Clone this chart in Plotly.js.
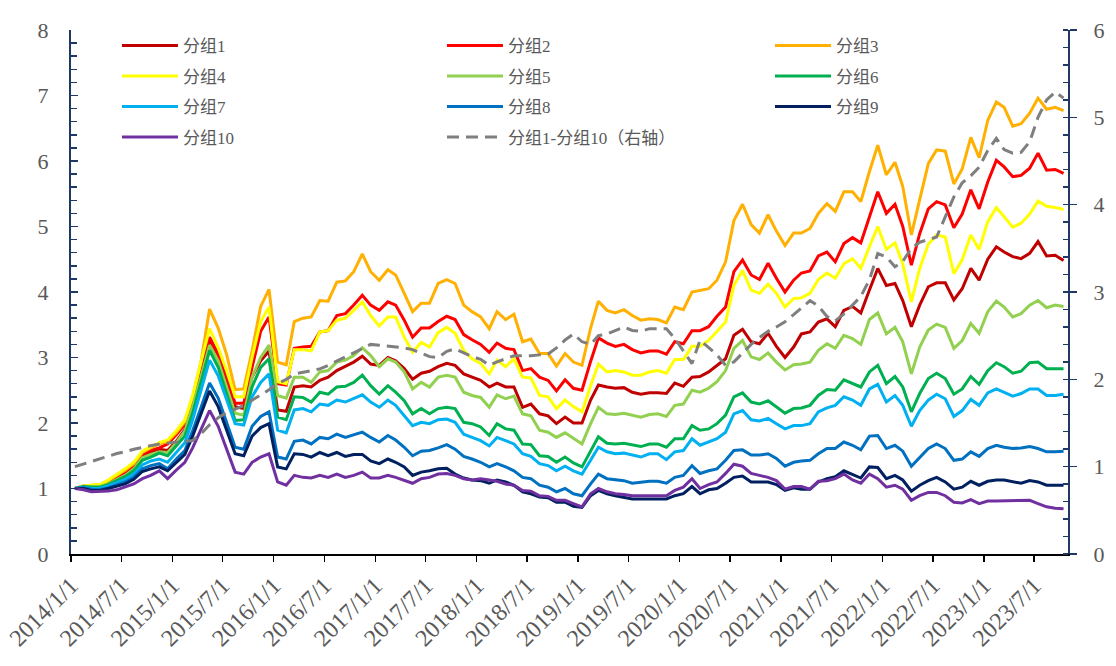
<!DOCTYPE html>
<html><head><meta charset="utf-8">
<script src="https://cdn.plot.ly/plotly-3.0.1.min.js"></script>
<style>html,body{margin:0;padding:0;background:#fff}#chart{width:1116px;height:666px}</style>
</head><body><div id="chart"></div>
<script>
// ---- categories: monthly observations 2014-01 .. 2023-10 ----
const startYear = 2014, startMonth = 1, nMonths = 118;
const dates = [];
for (let i = 0; i < nMonths; i++) {
  const y = startYear + Math.floor((startMonth - 1 + i) / 12);
  const m = (startMonth - 1 + i) % 12 + 1;
  dates.push(y + '-' + String(m).padStart(2, '0') + '-15');
}
const tickVals = ['2014-01-01','2014-07-01','2015-01-01','2015-07-01','2016-01-01','2016-07-01','2017-01-01','2017-07-01','2018-01-01','2018-07-01','2019-01-01','2019-07-01','2020-01-01','2020-07-01','2021-01-01','2021-07-01','2022-01-01','2022-07-01','2023-01-01','2023-07-01'];
const tickLabels = ['2014/1/1','2014/7/1','2015/1/1','2015/7/1','2016/1/1','2016/7/1','2017/1/1','2017/7/1','2018/1/1','2018/7/1','2019/1/1','2019/7/1','2020/1/1','2020/7/1','2021/1/1','2021/7/1','2022/1/1','2022/7/1','2023/1/1','2023/7/1'];

// ---- series values (left axis) ----
const g1 = [1.00,1.03,1.03,1.04,1.08,1.15,1.22,1.32,1.50,1.55,1.60,1.58,1.72,1.90,2.30,2.80,3.27,3.00,2.65,2.25,2.22,2.70,2.95,3.10,2.20,2.18,2.55,2.57,
 2.55,2.65,2.70,2.80,2.86,2.93,3.02,2.90,2.88,3.00,2.95,2.83,2.67,2.76,2.79,2.86,2.91,2.88,2.75,2.70,2.65,2.55,2.61,2.55,2.55,2.24,2.29,2.14,2.11,1.99,2.09,2.00,2.00,2.35,2.58,
 2.55,2.53,2.54,2.47,2.44,2.46,2.46,2.45,2.61,2.56,2.70,2.71,2.78,2.88,2.98,3.34,3.43,3.24,3.21,3.37,3.17,
 3.00,3.16,3.36,3.39,3.54,3.59,3.47,3.72,3.78,3.68,4.03,4.36,4.10,4.13,3.87,3.47,3.80,4.08,4.14,4.14,3.88,4.05,4.36,4.18,4.50,4.69,4.61,4.54,4.51,4.59,4.77,4.55,4.56,4.48];
const g2 = [1.00,1.04,1.04,1.05,1.10,1.17,1.25,1.35,1.52,1.58,1.62,1.68,1.82,1.98,2.35,2.85,3.31,3.05,2.70,2.30,2.30,2.85,3.40,3.62,2.60,2.58,3.14,3.16,
 3.17,3.39,3.41,3.64,3.67,3.80,3.95,3.80,3.72,3.85,3.80,3.57,3.31,3.45,3.45,3.55,3.63,3.58,3.35,3.27,3.20,3.08,3.22,3.14,3.12,2.80,2.83,2.70,2.65,2.49,2.66,2.53,2.50,2.94,3.30,
 3.22,3.17,3.20,3.12,3.07,3.10,3.10,3.05,3.24,3.21,3.41,3.41,3.47,3.63,3.77,4.31,4.49,4.26,4.19,4.44,4.21,
 4.00,4.18,4.29,4.32,4.55,4.61,4.46,4.74,4.83,4.75,5.15,5.53,5.20,5.34,5.00,4.41,4.89,5.27,5.38,5.33,4.98,5.19,5.56,5.27,5.68,6.01,5.91,5.76,5.78,5.89,6.12,5.86,5.87,5.81];
const g3 = [1.00,1.04,1.05,1.06,1.12,1.20,1.28,1.38,1.55,1.62,1.68,1.72,1.85,2.02,2.40,2.95,3.74,3.45,3.05,2.51,2.52,3.10,3.78,4.04,2.93,2.89,3.55,3.60,
 3.62,3.87,3.86,4.15,4.17,4.31,4.58,4.31,4.18,4.34,4.26,3.98,3.70,3.83,3.83,4.13,4.19,4.13,3.80,3.70,3.62,3.44,3.70,3.58,3.66,3.24,3.28,3.06,3.06,2.87,3.06,2.93,2.88,3.45,3.86,
 3.72,3.68,3.73,3.64,3.57,3.59,3.58,3.53,3.77,3.73,4.00,4.02,4.05,4.18,4.46,5.09,5.34,5.03,4.90,5.18,4.93,
 4.71,4.90,4.90,4.97,5.20,5.35,5.23,5.53,5.53,5.38,5.84,6.24,5.79,5.98,5.61,4.87,5.41,5.96,6.17,6.15,5.65,5.88,6.36,6.05,6.62,6.90,6.82,6.53,6.57,6.73,6.96,6.79,6.82,6.77];
const g4 = [1.00,1.04,1.05,1.06,1.13,1.21,1.30,1.40,1.57,1.64,1.70,1.74,1.88,2.05,2.42,2.95,3.44,3.15,2.80,2.40,2.40,3.00,3.55,3.77,2.63,2.60,3.12,3.12,
 3.10,3.39,3.41,3.57,3.60,3.72,3.85,3.64,3.48,3.62,3.62,3.31,3.08,3.23,3.16,3.38,3.46,3.37,3.11,2.98,2.91,2.75,2.96,2.86,2.98,2.70,2.69,2.42,2.40,2.22,2.35,2.25,2.17,2.57,2.90,
 2.78,2.80,2.78,2.73,2.73,2.78,2.80,2.76,2.97,2.97,3.17,3.17,3.26,3.39,3.54,4.10,4.33,4.03,3.98,4.12,3.98,
 3.77,3.90,3.91,3.98,4.19,4.29,4.21,4.43,4.51,4.36,4.69,5.00,4.65,4.75,4.43,3.85,4.36,4.73,4.87,4.84,4.28,4.49,4.87,4.65,5.07,5.29,5.15,4.99,5.05,5.19,5.39,5.31,5.29,5.26];
const g5 = [1.00,1.03,1.03,1.03,1.07,1.14,1.20,1.30,1.47,1.52,1.56,1.55,1.70,1.88,2.25,2.72,3.19,2.95,2.55,2.15,2.12,2.70,3.00,3.19,2.42,2.38,2.70,2.70,
 2.62,2.78,2.80,2.93,2.96,3.03,3.15,3.03,2.86,2.98,2.93,2.78,2.52,2.62,2.55,2.70,2.73,2.70,2.47,2.42,2.39,2.24,2.43,2.37,2.41,2.14,2.11,1.89,1.86,1.78,1.85,1.76,1.68,1.99,2.24,
 2.14,2.13,2.15,2.12,2.09,2.13,2.14,2.10,2.27,2.29,2.50,2.47,2.53,2.63,2.80,3.14,3.26,3.01,2.97,3.07,2.93,
 2.81,2.89,2.90,2.93,3.11,3.21,3.14,3.34,3.29,3.20,3.58,3.68,3.36,3.46,3.24,2.75,3.16,3.42,3.51,3.46,3.14,3.26,3.52,3.37,3.70,3.86,3.77,3.62,3.67,3.80,3.87,3.76,3.80,3.78];
const g6 = [1.00,1.03,1.02,1.02,1.06,1.12,1.18,1.27,1.43,1.48,1.54,1.50,1.65,1.80,2.15,2.65,3.11,2.85,2.45,2.04,2.05,2.55,2.85,2.98,2.09,2.05,2.40,2.39,
 2.32,2.47,2.44,2.55,2.56,2.62,2.73,2.57,2.44,2.57,2.47,2.34,2.14,2.22,2.14,2.22,2.24,2.22,2.01,1.99,1.94,1.81,1.99,1.91,1.89,1.68,1.67,1.50,1.49,1.40,1.48,1.39,1.33,1.58,1.79,
 1.69,1.68,1.69,1.66,1.64,1.68,1.68,1.63,1.76,1.76,1.96,1.89,1.91,1.99,2.12,2.40,2.46,2.32,2.29,2.34,2.24,
 2.15,2.22,2.23,2.27,2.42,2.51,2.50,2.66,2.60,2.55,2.78,2.88,2.60,2.71,2.55,2.17,2.45,2.68,2.76,2.68,2.44,2.52,2.71,2.59,2.80,2.92,2.86,2.76,2.79,2.92,2.93,2.83,2.83,2.83];
const g7 = [1.00,1.02,1.00,1.00,1.04,1.09,1.14,1.22,1.36,1.42,1.45,1.40,1.55,1.70,2.05,2.50,2.96,2.72,2.35,1.99,1.97,2.40,2.62,2.75,1.89,1.85,2.20,2.22,
 2.17,2.29,2.27,2.35,2.32,2.37,2.43,2.32,2.24,2.35,2.27,2.11,1.96,2.01,1.99,2.05,2.06,2.01,1.83,1.78,1.73,1.65,1.78,1.73,1.68,1.53,1.49,1.38,1.35,1.27,1.34,1.27,1.22,1.43,1.63,
 1.56,1.53,1.54,1.51,1.48,1.53,1.53,1.44,1.56,1.58,1.76,1.66,1.71,1.76,1.86,2.14,2.19,2.05,2.03,2.07,1.99,
 1.91,1.96,1.96,1.99,2.17,2.23,2.27,2.40,2.35,2.27,2.52,2.59,2.32,2.42,2.27,1.95,2.19,2.35,2.44,2.37,2.10,2.19,2.36,2.27,2.46,2.52,2.47,2.41,2.45,2.52,2.52,2.42,2.42,2.44];
const g8 = [1.00,1.01,0.99,0.98,1.01,1.05,1.10,1.17,1.30,1.35,1.38,1.30,1.45,1.58,1.88,2.25,2.61,2.38,2.00,1.63,1.60,1.95,2.10,2.17,1.48,1.45,1.72,1.74,
 1.68,1.78,1.76,1.83,1.78,1.82,1.86,1.78,1.71,1.81,1.74,1.63,1.50,1.57,1.58,1.62,1.67,1.60,1.49,1.45,1.40,1.33,1.38,1.33,1.27,1.17,1.15,1.05,1.02,0.95,1.00,0.92,0.89,1.07,1.22,
 1.15,1.13,1.12,1.08,1.10,1.11,1.11,1.08,1.17,1.20,1.35,1.23,1.27,1.30,1.43,1.58,1.59,1.51,1.51,1.53,1.46,
 1.34,1.40,1.42,1.43,1.53,1.61,1.61,1.71,1.66,1.59,1.80,1.81,1.61,1.66,1.57,1.34,1.48,1.61,1.68,1.61,1.43,1.45,1.56,1.49,1.61,1.66,1.63,1.61,1.62,1.64,1.61,1.56,1.56,1.57];
const g9 = [1.00,1.00,0.97,0.97,1.00,1.03,1.07,1.14,1.26,1.30,1.33,1.27,1.40,1.52,1.80,2.15,2.49,2.25,1.90,1.53,1.50,1.80,1.93,1.99,1.33,1.30,1.53,1.52,
 1.48,1.55,1.50,1.55,1.49,1.52,1.52,1.42,1.38,1.45,1.40,1.33,1.20,1.25,1.27,1.30,1.31,1.22,1.16,1.13,1.12,1.08,1.13,1.10,1.05,0.95,0.92,0.87,0.86,0.79,0.79,0.73,0.71,0.89,0.97,
 0.92,0.89,0.87,0.84,0.84,0.84,0.84,0.84,0.89,0.92,1.03,0.92,0.98,1.00,1.08,1.17,1.19,1.10,1.10,1.10,1.06,
 0.97,1.01,0.99,0.99,1.10,1.15,1.18,1.27,1.22,1.16,1.33,1.32,1.15,1.20,1.13,0.96,1.05,1.12,1.17,1.10,0.99,1.02,1.11,1.05,1.11,1.13,1.13,1.11,1.08,1.12,1.10,1.05,1.05,1.05];
const g10 = [1.00,0.98,0.95,0.95,0.96,0.98,1.02,1.07,1.15,1.20,1.27,1.15,1.28,1.40,1.62,1.90,2.19,1.95,1.60,1.25,1.22,1.40,1.48,1.53,1.10,1.05,1.20,1.17,
 1.16,1.20,1.17,1.22,1.17,1.20,1.25,1.16,1.16,1.20,1.17,1.13,1.08,1.15,1.17,1.22,1.23,1.20,1.15,1.13,1.15,1.13,1.11,1.07,1.05,0.97,0.96,0.89,0.88,0.82,0.82,0.77,0.72,0.92,1.00,
 0.95,0.92,0.91,0.89,0.89,0.89,0.89,0.89,0.97,1.02,1.15,1.00,1.06,1.10,1.23,1.37,1.34,1.23,1.20,1.17,1.12,
 0.99,1.03,1.03,0.99,1.11,1.12,1.15,1.22,1.13,1.08,1.22,1.15,1.02,1.05,0.99,0.82,0.89,0.94,0.94,0.89,0.79,0.78,0.83,0.77,0.81,0.81,0.81,0.81,0.81,0.82,0.77,0.72,0.70,0.69];
// ---- long-short series (right axis) ----
const spread = [1.00,1.03,1.06,1.09,1.12,1.15,1.17,1.20,1.22,1.24,1.26,1.27,1.28,1.29,1.30,1.38,1.48,1.56,1.62,1.66,
 1.70,1.76,1.82,1.88,1.95,2.00,2.06,2.08,2.10,2.12,2.16,2.21,2.26,2.31,2.36,2.40,2.39,2.38,2.37,2.36,
 2.34,2.30,2.26,2.25,2.32,2.35,2.30,2.26,2.23,2.16,2.20,2.24,2.27,2.27,2.27,2.28,2.29,2.36,2.45,2.52,
 2.43,2.40,2.50,2.52,2.56,2.60,2.56,2.55,2.58,2.58,2.58,2.47,2.32,2.18,2.45,2.36,2.28,2.16,2.20,2.30,
 2.40,2.48,2.55,2.60,2.66,2.74,2.82,2.90,2.84,2.72,2.67,2.75,2.85,2.95,3.14,3.44,3.40,3.29,3.35,3.50,
 3.57,3.60,3.63,3.86,4.09,4.25,4.33,4.43,4.62,4.76,4.63,4.59,4.60,4.72,5.00,5.20,5.29,5.22];

const groupNames = ['分组1','分组2','分组3','分组4','分组5','分组6','分组7','分组8','分组9','分组10'];
const groupValues = [g1,g2,g3,g4,g5,g6,g7,g8,g9,g10];
const groupColors = ['#C00000','#FF0000','#FFB000','#FFFF00','#92D050','#00B050','#00B0F0','#0070C0','#002060','#7030A0'];
const legendOf = ['legend','legend2','legend3','legend','legend2','legend3','legend','legend2','legend3','legend'];
const spreadName = '分组1-分组10（右轴）';

const FONT = "'Liberation Serif','Times New Roman','Noto Sans CJK SC',serif";
const traces = groupValues.map((vals, i) => ({
  x: dates, y: vals, name: groupNames[i], type: 'scatter', mode: 'lines',
  line: {color: groupColors[i], width: 3}, legend: legendOf[i], legendgroup: 'g' + i
}));
traces.push({x: dates, y: spread, name: spreadName, type: 'scatter', mode: 'lines', yaxis: 'y2',
  line: {color: '#7F7F7F', width: 3, dash: '12px,7px'}, legend: 'legend2', legendgroup: 'gs'});

const legendBase = {orientation: 'v', xanchor: 'left', yanchor: 'top', y: 1.004,
  bgcolor: 'rgba(0,0,0,0)', borderwidth: 0, itemwidth: 56, tracegroupgap: 5.4,
  font: {family: FONT, size: 17, color: '#595959'}};
const navy = '#1F3864';
const layout = {
  width: 1116, height: 666, margin: {l: 71, r: 48, t: 30, b: 112},
  paper_bgcolor: '#fff', plot_bgcolor: '#fff', showlegend: true, hovermode: false,
  legend: Object.assign({}, legendBase, {x: 0.0461}),
  legend2: Object.assign({}, legendBase, {x: 0.3721}),
  legend3: Object.assign({}, legendBase, {x: 0.7011}),
  xaxis: {type: 'date', range: ['2014-01-01', '2023-10-31'], tickvals: tickVals, ticktext: tickLabels,
    tickangle: -45, ticks: 'outside', ticklen: 6, tickwidth: 1.5, tickcolor: '#000',
    showline: true, linecolor: '#000', linewidth: 2, showgrid: false, zeroline: false,
    tickfont: {family: FONT, size: 24, color: '#595959'}},
  yaxis: {range: [0, 8], tick0: 0, dtick: 1, ticks: 'inside', ticklen: 7, tickwidth: 1.5, tickcolor: navy,
    showline: true, linecolor: navy, linewidth: 2, showgrid: false, zeroline: false,
    tickfont: {family: FONT, size: 22, color: '#595959'}, ticklabelstandoff: 16,
    minor: {dtick: 0.2, ticks: 'inside', ticklen: 6, tickwidth: 1.5, tickcolor: navy, showgrid: false}},
  yaxis2: {overlaying: 'y', side: 'right', range: [0, 6], tick0: 0, dtick: 1, ticks: 'outside', ticklen: 7,
    tickwidth: 1.5, tickcolor: navy, showline: true, linecolor: navy, linewidth: 2, showgrid: false, zeroline: false,
    tickfont: {family: FONT, size: 22, color: '#595959'}, ticklabelstandoff: 12,
    minor: {dtick: 0.2, ticks: 'inside', ticklen: 5, tickwidth: 1.5, tickcolor: navy, showgrid: false}}
};
Plotly.newPlot('chart', traces, layout, {staticPlot: true, displayModeBar: false});
</script></body></html>
